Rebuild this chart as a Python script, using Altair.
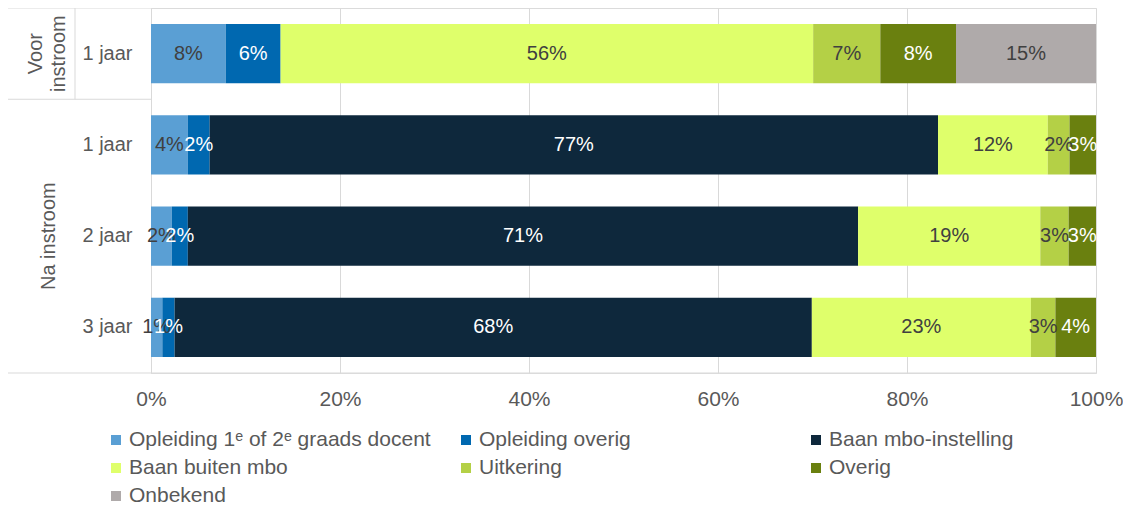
import altair as alt
import pandas as pd

# ---- data ----
rows = ["Voor|1 jaar", "Na|1 jaar", "Na|2 jaar", "Na|3 jaar"]
categories = [
    "Opleiding 1ᵉ of 2ᵉ graads docent",
    "Opleiding overig",
    "Baan mbo-instelling",
    "Baan buiten mbo",
    "Uitkering",
    "Overig",
    "Onbekend",
]
opleiding_docent = [7.9, 3.9, 2.2, 1.2]
opleiding_overig = [5.8, 2.3, 1.7, 1.3]
baan_mbo = [0.0, 77.0, 71.0, 67.5]
baan_buiten = [56.3, 11.6, 19.3, 23.2]
uitkering = [7.1, 2.3, 3.0, 2.6]
overig = [8.0, 2.8, 2.9, 4.3]
onbekend = [14.8, 0.0, 0.0, 0.0]
series = [opleiding_docent, opleiding_overig, baan_mbo, baan_buiten,
          uitkering, overig, onbekend]

colors = ["#5A9FD4", "#0068B0", "#0E283C", "#DFFF6B", "#B4D046", "#6A800F", "#AFAAAA"]
label_colors = ["#404040", "#FFFFFF", "#FFFFFF", "#404040", "#404040", "#FFFFFF", "#404040"]

records = []
for ci, (cat, vals) in enumerate(zip(categories, series)):
    for r, v in zip(rows, vals):
        records.append({"row": r, "cat": cat, "order": ci, "value": v,
                        "tcol": label_colors[ci]})
df = pd.DataFrame(records)

W, H = 945, 365
PADL = 143
TOTAL_H = 500
FONT = "Liberation Sans"
GRID = "#D9D9D9"
TXT = "#595959"
FS = 20

color_scale = alt.Scale(domain=categories, range=colors)

base = alt.Chart(df).transform_filter("datum.value > 0").transform_stack(
    stack="value", as_=["x0", "x1"], groupby=["row"],
    sort=[alt.SortField("order", order="ascending")], offset="normalize"
).transform_calculate(
    xm="(datum.x0 + datum.x1) / 2",
    lab="format(datum.value, '.0f') + '%'",
)

yenc = alt.Y("row:N", sort=rows,
             scale=alt.Scale(domain=rows, paddingInner=0.35, paddingOuter=0.175),
             axis=alt.Axis(title=None, labelExpr="split(datum.label, '|')[1]",
                           ticks=False, domain=True, domainColor=GRID,
                           labelFontSize=FS, labelColor=TXT, labelFont=FONT,
                           labelPadding=19, grid=False))

bars = base.mark_bar().encode(
    x=alt.X("x0:Q", scale=alt.Scale(domain=[0, 1], nice=False),
            axis=alt.Axis(title=None, format=".0%", values=[0, 0.2, 0.4, 0.6, 0.8, 1.0],
                          grid=True, gridColor=GRID, domain=False, ticks=False,
                          labelFontSize=21, labelColor=TXT, labelFont=FONT,
                          labelPadding=15, labelFlush=False, labelOverlap=False)),
    x2="x1:Q",
    y=yenc,
    color=alt.Color("cat:N", scale=color_scale, legend=None),
)

labels = base.mark_text(fontSize=FS, font=FONT, baseline="middle", align="center").encode(
    x="xm:Q",
    y=alt.Y("row:N", sort=rows),
    text="lab:N",
    color=alt.Color("tcol:N", scale=None),
)

voor_txt = alt.Chart(pd.DataFrame({"row": ["Voor|1 jaar"], "txt": ["Voor\ninstroom"]})).mark_text(
    fontSize=FS, font=FONT, color=TXT, angle=270, align="center", baseline="middle",
    lineBreak="\n", lineHeight=23).encode(
    x=alt.value(-115), y=alt.Y("row:N", sort=rows), text="txt:N")

na_txt = alt.Chart(pd.DataFrame({"row": ["Na|2 jaar"], "txt": ["Na instroom"]})).mark_text(
    fontSize=FS, font=FONT, color=TXT, angle=270, align="center", baseline="middle").encode(
    x=alt.value(-102), y=alt.Y("row:N", sort=rows), text="txt:N")

line_df = pd.DataFrame({"k": [0]})
def rule(x1, x2, y1, y2=None):
    enc = dict(x=alt.value(x1), x2=alt.value(x2), y=alt.value(y1))
    if y2 is not None:
        enc["y2"] = alt.value(y2)
    return alt.Chart(line_df).mark_rule(color=GRID, strokeWidth=1).encode(**enc)

step = H / 4.0
rules = (rule(-PADL, W, 0) + rule(-PADL, W, H) + rule(-PADL, 0, step)
         + rule(-76, -76, 0, step))

# ---- legend (3 columns, row-major, like the reference) ----
LEG_X0, LEG_COLW, LEG_Y0, LEG_ROWH = -40, 350, 432, 28
leg = pd.DataFrame({
    "cat": categories,
    "sx": [LEG_X0 + 5 + (i % 3) * LEG_COLW for i in range(len(categories))],
    "tx": [LEG_X0 + 18 + (i % 3) * LEG_COLW for i in range(len(categories))],
    "ly": [LEG_Y0 + (i // 3) * LEG_ROWH for i in range(len(categories))],
})
leg_sym = alt.Chart(leg).mark_square(size=100, opacity=1).encode(
    x=alt.X("sx:Q", scale=None, axis=None),
    y=alt.Y("ly:Q", scale=None, axis=None),
    color=alt.Color("cat:N", scale=color_scale, legend=None),
)
leg_txt = alt.Chart(leg).mark_text(fontSize=21, font=FONT, color=TXT, align="left",
                                   baseline="middle").encode(
    x=alt.X("tx:Q", scale=None, axis=None),
    y=alt.Y("ly:Q", scale=None, axis=None),
    text="cat:N",
)

chart = alt.layer(bars, labels, voor_txt, na_txt, rules, leg_sym, leg_txt).properties(
    width=W, height=H,
    autosize=alt.AutoSizeParams(type="none"),
    padding={"left": PADL, "top": 0, "right": 27, "bottom": TOTAL_H - H},
).configure_view(stroke=None).configure(font=FONT)

chart.save("out.html", embed_options={"renderer": "svg", "actions": False})
